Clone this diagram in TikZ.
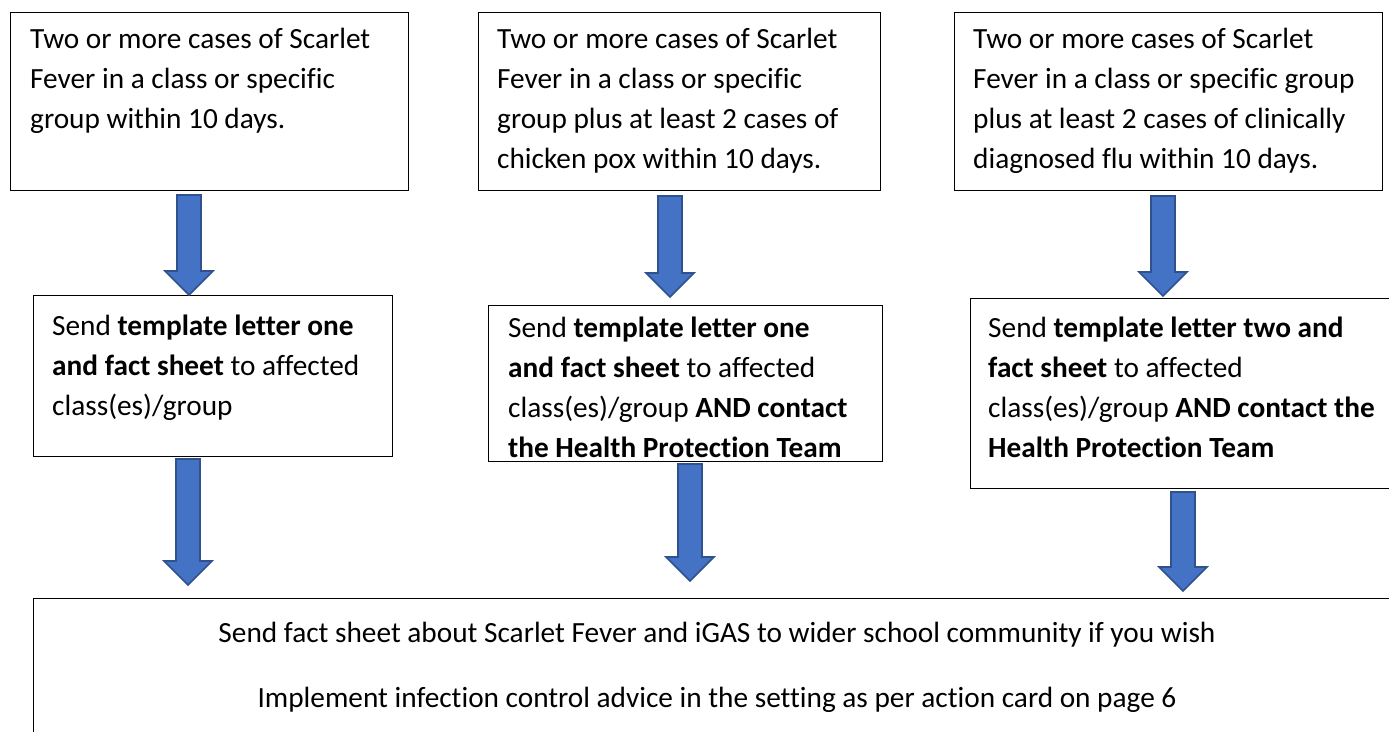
\documentclass[tikz,border=0pt]{standalone}
\usepackage{fontspec}
\setmainfont{Carlito}[Ligatures=NoCommon]
\usetikzlibrary{calc}
\definecolor{arrowfill}{HTML}{4472C4}
\definecolor{arrowline}{HTML}{2F528F}
\newcommand\boxtext[2]{\parbox[t]{#1}{\raggedright #2}}
\newcommand\blockarrow[2]{%
  \path let \p1=(#1), \p2=(#2) in [blockarrow]
    (\x1-12pt,\y1) -- (\x1+12pt,\y1) -- (\x1+12pt,\y2+24pt) -- (\x1+24pt,\y2+24pt)
    -- (\x1,\y2) -- (\x1-24pt,\y2+24pt) -- (\x1-12pt,\y2+24pt) -- cycle;}
\tikzset{
  box/.style={draw=black, line width=1.3pt, anchor=north west, inner sep=0pt, rectangle},
  txt/.style={anchor=base west, inner sep=0pt, font=\fontsize{29.3}{40}\selectfont},
  blockarrow/.style={fill=arrowfill, draw=arrowline, line width=1.6pt, line join=miter},
}
\begin{document}
\begin{tikzpicture}[x=1pt,y=-1pt]
\clip (0,0) rectangle (1389,731);
\fill[white] (0,0) rectangle (1389,731);

% top row
\node[box, minimum width=398pt, minimum height=178pt] (b1) at (10,12) {};
\node[txt] (t1) at (30,48) {\boxtext{380pt}{Two or more cases of Scarlet\\Fever in a class or specific\\group within 10 days.}};

\node[box, minimum width=402pt, minimum height=178pt] (b2) at (478,12) {};
\node[txt] (t2) at (497,48) {\boxtext{380pt}{Two or more cases of Scarlet\\Fever in a class or specific\\group plus at least 2 cases of\\chicken pox within 10 days.}};

\node[box, minimum width=428pt, minimum height=178pt] (b3) at (954,12) {};
\node[txt] (t3) at (973,48) {\boxtext{410pt}{Two or more cases of Scarlet\\Fever in a class or specific group\\plus at least 2 cases of clinically\\diagnosed flu within 10 days.}};

% middle row
\node[box, minimum width=359pt, minimum height=161pt] (b4) at (33,295) {};
\node[txt] (t4) at (52,335) {\boxtext{340pt}{Send \textbf{template letter one}\\\textbf{and fact sheet} to affected\\class(es)/group}};

\node[box, minimum width=394pt, minimum height=156pt] (b5) at (488,305) {};
\node[txt] (t5) at (508,337) {\boxtext{380pt}{Send \textbf{template letter one}\\\textbf{and fact sheet} to affected\\class(es)/group \textbf{AND contact}\\\textbf{the Health Protection Team}}};

\node[box, minimum width=440pt, minimum height=190pt] (b6) at (970,298) {};
\node[txt] (t6) at (988,337) {\boxtext{420pt}{Send \textbf{template letter two and}\\\textbf{fact sheet} to affected\\class(es)/group \textbf{AND contact the}\\\textbf{Health Protection Team}}};

% bottom box
\node[box, minimum width=1400pt, minimum height=200pt] (b7) at (33,598) {};
\node[anchor=base, inner sep=0pt, font=\fontsize{29.3}{40}\selectfont, align=center] (t7) at (717,707)
  {Send fact sheet about Scarlet Fever and iGAS to wider school community if you wish\\[25pt]
   Implement infection control advice in the setting as per action card on page 6};

% arrow end points
\coordinate (a1s) at (189,195); \coordinate (a1e) at (189,295);
\coordinate (a2s) at (670,196); \coordinate (a2e) at (670,297);
\coordinate (a3s) at (1163,196); \coordinate (a3e) at (1163,296);
\coordinate (a4s) at (188,459); \coordinate (a4e) at (188,585);
\coordinate (a5s) at (690,464); \coordinate (a5e) at (690,581);
\coordinate (a6s) at (1183,492); \coordinate (a6e) at (1183,591);

\blockarrow{a1s}{a1e}
\blockarrow{a2s}{a2e}
\blockarrow{a3s}{a3e}
\blockarrow{a4s}{a4e}
\blockarrow{a5s}{a5e}
\blockarrow{a6s}{a6e}
\end{tikzpicture}
\end{document}
